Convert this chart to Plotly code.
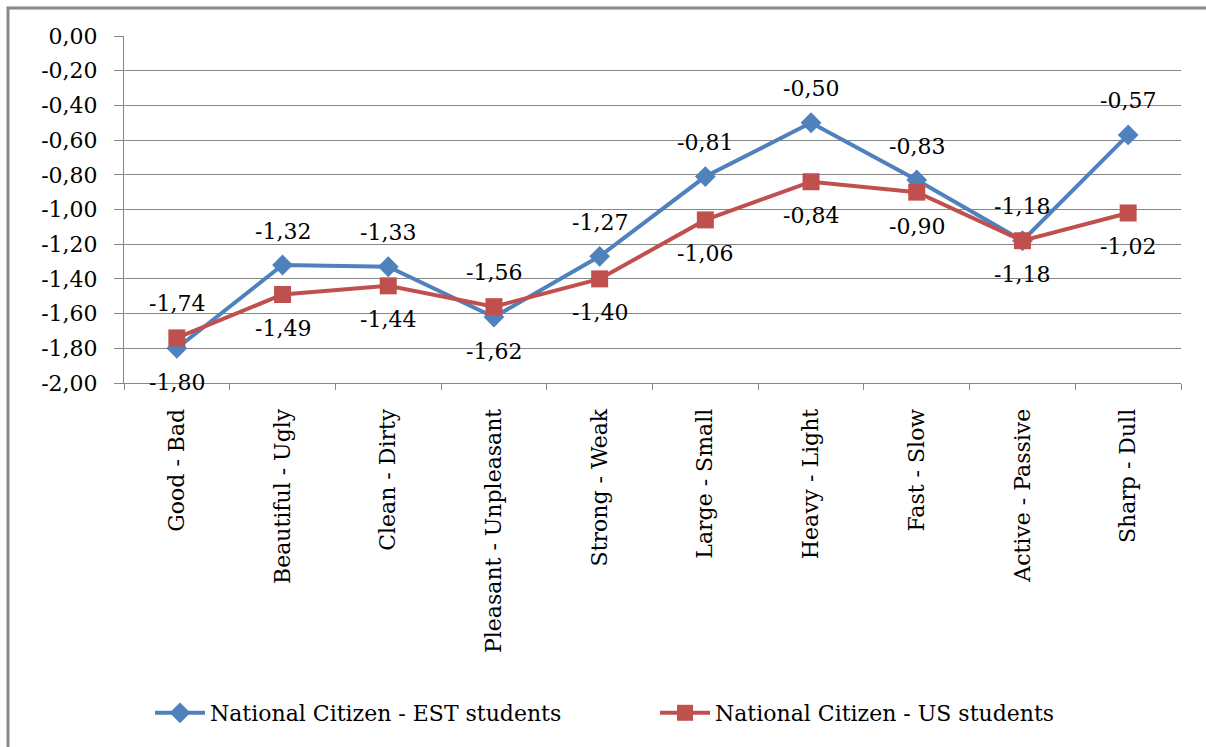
import plotly.graph_objects as go

# Semantic differential pairs and mean scores per group
categories = ["Good - Bad", "Beautiful - Ugly", "Clean - Dirty", "Pleasant - Unpleasant",
              "Strong - Weak", "Large - Small", "Heavy - Light", "Fast - Slow",
              "Active - Passive", "Sharp - Dull"]
est_students = [-1.80, -1.32, -1.33, -1.62, -1.27, -0.81, -0.50, -0.83, -1.18, -0.57]
us_students = [-1.74, -1.49, -1.44, -1.56, -1.40, -1.06, -0.84, -0.90, -1.18, -1.02]
series_names = ["National Citizen - EST students", "National Citizen - US students"]
y_ticks = [0.0, -0.2, -0.4, -0.6, -0.8, -1.0, -1.2, -1.4, -1.6, -1.8, -2.0]

BLUE = "#4F81BD"
RED = "#C0504D"
GRID = "#868686"
FONT = "DejaVu Serif"
SIZE = 22

W, H = 1206, 747
L, R, T, B = 124, 25, 36, 364


def fmt(v):
    # decimal comma and a plain hyphen for the sign
    return f"{v:.2f}".replace(".", ",")


fig = go.Figure()
fig.add_trace(go.Scatter(
    x=categories, y=est_students, name=series_names[0], mode="lines+markers",
    line=dict(color=BLUE, width=4),
    marker=dict(symbol="diamond", size=16, color=BLUE),
))
fig.add_trace(go.Scatter(
    x=categories, y=us_students, name=series_names[1], mode="lines+markers",
    line=dict(color=RED, width=4),
    marker=dict(symbol="square", size=17, color=RED),
))

# Value labels: the higher series of each pair is labelled above, the other below
annotations = []
for cat, e, u in zip(categories, est_students, us_students):
    est_up = e >= u
    for v, up in ((e, est_up), (u, not est_up)):
        annotations.append(dict(
            x=cat, y=v, text=fmt(v), showarrow=False,
            yshift=34 if up else -34,
            font=dict(family=FONT, size=SIZE, color="black"),
        ))

# Frame around the chart (left and top edges visible)
pw, ph = W - L - R, H - T - B
def px(x):
    return (x - L) / pw
def py(y):
    return (H - B - y) / ph

shapes = [dict(type="rect", xref="paper", yref="paper",
               x0=px(8), x1=px(W + 20), y0=py(8), y1=py(H + 20),
               line=dict(color="#888888", width=3), layer="below")]

fig.update_layout(
    width=W, height=H,
    margin=dict(l=L, r=R, t=T, b=B, pad=0),
    paper_bgcolor="white", plot_bgcolor="white",
    annotations=annotations,
    shapes=shapes,
    showlegend=True,
    legend=dict(
        orientation="h", x=px(150), y=py(713), xanchor="left", yanchor="middle",
        font=dict(family=FONT, size=SIZE, color="black"),
        itemwidth=50, entrywidth=440, tracegroupgap=0,
        bgcolor="rgba(0,0,0,0)",
    ),
    xaxis=dict(
        type="category", tickangle=-90, ticks="outside", tickson="boundaries",
        ticklen=6, tickcolor=GRID, showgrid=False,
        showline=True, linecolor=GRID, linewidth=1,
        tickfont=dict(family=FONT, size=SIZE, color="black"),
        ticklabelstandoff=16,
        range=[-0.5, len(categories) - 0.5],
    ),
    yaxis=dict(
        range=[-2.0, 0.0], tickvals=y_ticks, ticktext=[fmt(v) for v in y_ticks],
        ticks="outside", ticklen=9, tickcolor=GRID,
        showgrid=True, gridcolor=GRID, gridwidth=1,
        showline=True, linecolor=GRID, linewidth=1,
        zeroline=False, ticklabelstandoff=12,
        tickfont=dict(family=FONT, size=SIZE, color="black"),
    ),
)

fig.write_html("out.html")
